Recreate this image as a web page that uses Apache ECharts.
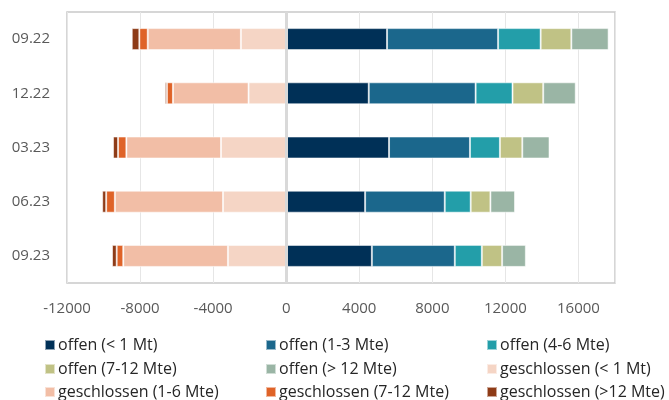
<!DOCTYPE html>
<html>
<head>
<meta charset="utf-8">
<script src="https://cdn.jsdelivr.net/npm/echarts@6/dist/echarts.min.js"></script>
<style>html,body{margin:0;padding:0;background:#fff}#c{width:669px;height:400px}</style>
</head>
<body>
<div id="c"></div>
<script>
const categories = ['09.22', '12.22', '03.23', '06.23', '09.23'];
const xTicks = [-12000, -8000, -4000, 0, 4000, 8000, 12000, 16000];

const offenLt1 = [5520, 4520, 5630, 4320, 4690];
const offen1to3 = [6080, 5850, 4430, 4360, 4540];
const offen4to6 = [2330, 2020, 1640, 1420, 1480];
const offen7to12 = [1680, 1680, 1225, 1080, 1110];
const offenGt12 = [2040, 1780, 1490, 1345, 1300];

const geschlLt1 = [-2480, -2060, -3570, -3460, -3190];
const geschl1to6 = [-5100, -4140, -5180, -5920, -5730];
const geschl7to12 = [-460, -330, -455, -475, -360];
const geschlGt12 = [-415, -110, -275, -220, -255];

const names = ['offen (< 1 Mt)', 'offen (1-3 Mte)', 'offen (4-6 Mte)', 'offen (7-12 Mte)', 'offen (> 12 Mte)',
  'geschlossen (< 1 Mt)', 'geschlossen (1-6 Mte)', 'geschlossen (7-12 Mte)', 'geschlossen (>12 Mte)'];
const dataSets = [offenLt1, offen1to3, offen4to6, offen7to12, offenGt12, geschlLt1, geschl1to6, geschl7to12, geschlGt12];
const colors = ['#003057', '#1b678c', '#239ea9', '#c0c285', '#9ab5a5', '#f5d5c5', '#f2bea6', '#df6328', '#8e3b17'];

const font = '"Open Sans", "Noto Sans", sans-serif';

const series = dataSets.map((d, i) => {
  const s = {
    name: names[i], type: 'bar', stack: 'total', data: d, barWidth: 22,
    itemStyle: { color: colors[i], borderColor: 'rgba(255,255,255,0.55)', borderWidth: 1 },
    emphasis: { disabled: true }
  };
  if (i === 0) {
    s.markLine = {
      silent: true, symbol: 'none', label: { show: false },
      lineStyle: { color: '#d9d9d9', width: 3, type: 'solid' },
      data: [{ xAxis: 0 }]
    };
  }
  return s;
});

// legend grid: 3 columns x 3 rows, row-major order
const legendLeft = [44, 265, 486];
const legendTop = [337, 361, 384];
const legends = names.map((n, i) => ({
  data: [n], left: legendLeft[i % 3], top: legendTop[Math.floor(i / 3)], padding: 0,
  itemWidth: 10, itemHeight: 10, itemGap: 0, icon: 'rect', selectedMode: false,
  textStyle: { fontFamily: font, fontSize: 16, color: '#262626', padding: [0, 0, 0, -2] }
}));

const chart = echarts.init(document.getElementById('c'));
chart.setOption({
  animation: false,
  color: colors,
  grid: { left: 67, right: 54, top: 12, bottom: 117, show: true, borderColor: '#c9c9c9', borderWidth: 1.5, containLabel: false },
  legend: legends,
  xAxis: {
    type: 'value', min: -12000, max: 18000, interval: 4000,
    axisLine: { show: false }, axisTick: { show: false },
    splitLine: { show: true, lineStyle: { color: '#e6e6e6', width: 1 } },
    axisLabel: {
      showMaxLabel: false, margin: 18, fontFamily: font, fontSize: 15, color: '#595959',
      formatter: v => xTicks.includes(v) ? String(v) : ''
    }
  },
  yAxis: {
    type: 'category', data: categories, inverse: true,
    axisLine: { show: false }, axisTick: { show: false },
    axisLabel: { margin: 17, fontFamily: font, fontSize: 15, color: '#595959' }
  },
  series: series
});
</script>
</body>
</html>
